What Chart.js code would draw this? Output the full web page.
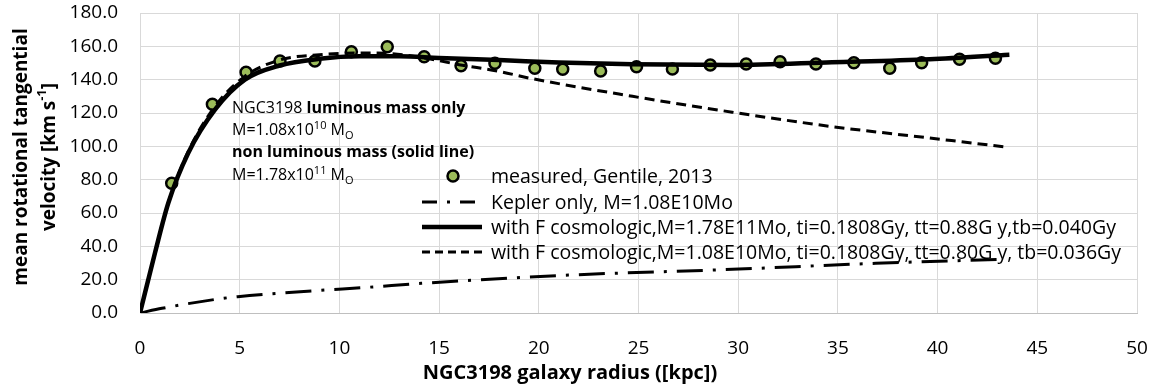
<!DOCTYPE html>
<html>
<head>
<meta charset="utf-8">
<script src="https://cdn.jsdelivr.net/npm/chart.js@4.4.1/dist/chart.umd.min.js"></script>
<style>
  html, body { margin: 0; padding: 0; background: #fff; }
  #wrap { width: 1154px; height: 391px; }
</style>
</head>
<body>
<div id="wrap"><canvas id="rotChart" width="1154" height="391"></canvas></div>
<script>
// measured rotation curve (Gentile, 2013)
const measuredR = [1.59, 3.63, 5.32, 7.02, 8.77, 10.6, 12.4, 14.25, 16.1, 17.8, 19.8, 21.2, 23.1, 24.9, 26.7, 28.6, 30.4, 32.1, 33.9, 35.8, 37.6, 39.2, 41.1, 42.9];
const measuredV = [77.8, 125.2, 144.4, 151.2, 151.2, 156.8, 159.8, 153.8, 148.4, 149.8, 146.8, 146.2, 145.2, 147.8, 146.4, 148.8, 149.4, 150.8, 149.4, 150.2, 146.8, 150.2, 152.2, 152.8];

// Kepler only
const keplerR = [0, 1.1, 3.8, 4.9, 8.8, 11.4, 14.1, 21.6, 29.3, 36.9, 43.4];
const keplerV = [0, 2.8, 8.2, 9.8, 13.4, 15.4, 17.8, 22.8, 26.0, 29.8, 32.3];

// with F cosmologic, M=1.78E11
const cosmoBigR = [0, 0.75, 1.42, 2.42, 3.76, 5.26, 7, 9, 11, 13, 15, 18, 21, 24.7, 29.7, 34.7, 39.6, 43.6];
const cosmoBigV = [0, 36, 66, 96, 122, 140, 148.5, 152.5, 154, 154, 153, 151.8, 150.3, 149.2, 148.8, 150.4, 152.2, 155];

// with F cosmologic, M=1.08E10
const cosmoSmallR = [0, 0.75, 1.42, 2.42, 3.76, 5.26, 7, 9, 11, 12.4, 14.5, 16, 18, 19.5, 24.7, 29.7, 34.6, 39.6, 43.5];
const cosmoSmallV = [0, 36, 66, 97, 124, 142, 151.8, 155, 156, 155.8, 152.5, 149, 145, 141, 130, 120.5, 112, 105, 99.5];

const yTicks = [0, 20, 40, 60, 80, 100, 120, 140, 160, 180];
const xTicks = [0, 5, 10, 15, 20, 25, 30, 35, 40, 45, 50];

const FONT = '"Open Sans", "Liberation Sans", sans-serif';

function toPoints(xs, ys) {
    return xs.map((x, i) => ({ x: x, y: ys[i] }));
}

// draws runs of text with optional superscript / subscript parts
function drawRich(ctx, parts, x, y, size) {
    let cx = x;
    parts.forEach(p => {
        const s = p.sup || p.sub ? Math.round(size * 0.68) : size;
        ctx.font = (p.bold ? 'bold ' : '') + s + 'px ' + FONT;
        const dy = p.sup ? -size * 0.38 : (p.sub ? size * 0.22 : 0);
        ctx.fillText(p.t, cx, y + dy);
        cx += ctx.measureText(p.t).width;
    });
    return cx - x;
}

function richWidth(ctx, parts, size) {
    let w = 0;
    parts.forEach(p => {
        const s = p.sup || p.sub ? Math.round(size * 0.68) : size;
        ctx.font = (p.bold ? 'bold ' : '') + s + 'px ' + FONT;
        w += ctx.measureText(p.t).width;
    });
    return w;
}

const textPlugin = {
    id: 'textPlugin',
    afterDraw(chart) {
        const ctx = chart.ctx;
        ctx.save();
        ctx.fillStyle = '#000';
        ctx.textBaseline = 'alphabetic';
        ctx.textAlign = 'left';

        // annotation
        drawRich(ctx, [{ t: 'NGC3198 ' }, { t: 'luminous mass only', bold: true }], 232, 113, 16);
        drawRich(ctx, [{ t: 'M=1.08x10' }, { t: '10', sup: true }, { t: ' M' }, { t: 'O', sub: true }], 232, 135, 16);
        drawRich(ctx, [{ t: 'non luminous mass (solid line)', bold: true }], 232, 157, 16);
        drawRich(ctx, [{ t: 'M=1.78x10' }, { t: '11', sup: true }, { t: ' M' }, { t: 'O', sub: true }], 232, 180, 16);

        // legend
        const rows = [176, 202, 227, 252];
        chart.data.datasets.forEach((ds, i) => {
            const y = rows[i];
            ctx.save();
            if (ds.showLine === false) {
                ctx.beginPath();
                ctx.arc(453, y, ds.pointRadius, 0, Math.PI * 2);
                ctx.fillStyle = ds.pointBackgroundColor;
                ctx.fill();
                ctx.lineWidth = ds.pointBorderWidth;
                ctx.strokeStyle = ds.pointBorderColor;
                ctx.stroke();
            } else {
                ctx.beginPath();
                ctx.setLineDash(ds.legendDash || []);
                ctx.lineWidth = ds.borderWidth;
                ctx.strokeStyle = ds.borderColor;
                ctx.moveTo(422, y);
                ctx.lineTo(482, y);
                ctx.stroke();
            }
            ctx.restore();
            ctx.font = '19.5px ' + FONT;
            ctx.textBaseline = 'middle';
            ctx.fillText(ds.label, 491, y + 1);
        });

        // x axis title
        ctx.textBaseline = 'middle';
        ctx.textAlign = 'center';
        ctx.font = 'bold 20px ' + FONT;
        ctx.fillText('NGC3198 galaxy radius ([kpc])', 570, 373);

        // y axis title (two lines, rotated)
        ctx.save();
        ctx.translate(22, 157);
        ctx.rotate(-Math.PI / 2);
        ctx.font = 'bold 19px ' + FONT;
        ctx.fillText('mean rotational tangential', 0, 0);
        ctx.restore();

        ctx.save();
        ctx.translate(50, 157);
        ctx.rotate(-Math.PI / 2);
        ctx.textAlign = 'left';
        const title2 = [{ t: 'velocity [km s', bold: true }, { t: '-1', sup: true, bold: true }, { t: ']', bold: true }];
        const w = richWidth(ctx, title2, 19);
        drawRich(ctx, title2, -w / 2, 0, 19);
        ctx.restore();

        ctx.restore();
    }
};

const canvas = document.getElementById('rotChart');

new Chart(canvas, {
    type: 'scatter',
    data: {
        datasets: [
            {
                label: 'measured, Gentile, 2013',
                data: toPoints(measuredR, measuredV),
                showLine: false,
                pointRadius: 5.5,
                pointBackgroundColor: '#9bbb59',
                pointBorderColor: '#000',
                pointBorderWidth: 2.5,
                order: 10
            },
            {
                label: 'Kepler only, M=1.08E10Mo',
                data: toPoints(keplerR, keplerV),
                showLine: true,
                borderColor: '#000',
                borderWidth: 3,
                borderDash: [26, 10, 3, 10],
                legendDash: [15, 10, 3, 10],
                pointRadius: 0,
                cubicInterpolationMode: 'monotone',
                order: 3
            },
            {
                label: 'with F cosmologic,M=1.78E11Mo, ti=0.1808Gy, tt=0.88G y,tb=0.040Gy',
                data: toPoints(cosmoBigR, cosmoBigV),
                showLine: true,
                borderColor: '#000',
                borderWidth: 4.5,
                pointRadius: 0,
                cubicInterpolationMode: 'monotone',
                order: 1
            },
            {
                label: 'with F cosmologic,M=1.08E10Mo, ti=0.1808Gy, tt=0.80G y, tb=0.036Gy',
                data: toPoints(cosmoSmallR, cosmoSmallV),
                showLine: true,
                borderColor: '#000',
                borderWidth: 3,
                borderDash: [10, 6],
                legendDash: [8, 5],
                pointRadius: 0,
                cubicInterpolationMode: 'monotone',
                order: 2
            }
        ]
    },
    options: {
        responsive: false,
        animation: false,
        layout: {
            padding: { left: 0, right: 17, top: 13, bottom: 0 }
        },
        plugins: {
            legend: { display: false },
            tooltip: { enabled: false }
        },
        scales: {
            x: {
                type: 'linear',
                min: 0,
                max: 50,
                afterBuildTicks: (scale) => { scale.ticks = xTicks.map(v => ({ value: v })); },
                afterFit: (scale) => {
                    scale.height = 78;
                    scale.paddingLeft = 0;
                    scale.paddingRight = 0;
                },
                grid: { color: '#d9d9d9', lineWidth: 1, drawTicks: false },
                border: { color: '#bfbfbf', width: 1 },
                ticks: {
                    padding: 24,
                    color: '#000',
                    font: { family: FONT, size: 19 },
                    callback: (v) => String(v)
                }
            },
            y: {
                type: 'linear',
                min: 0,
                max: 180,
                afterBuildTicks: (scale) => { scale.ticks = yTicks.map(v => ({ value: v })); },
                afterFit: (scale) => {
                    scale.width = 140;
                    scale.paddingTop = 0;
                    scale.paddingBottom = 0;
                },
                grid: { color: '#d9d9d9', lineWidth: 1, drawTicks: false },
                border: { color: '#d9d9d9', width: 1 },
                ticks: {
                    padding: 22,
                    color: '#000',
                    font: { family: FONT, size: 19 },
                    callback: (v) => v.toFixed(1)
                }
            }
        }
    },
    plugins: [textPlugin]
});
</script>
</body>
</html>
